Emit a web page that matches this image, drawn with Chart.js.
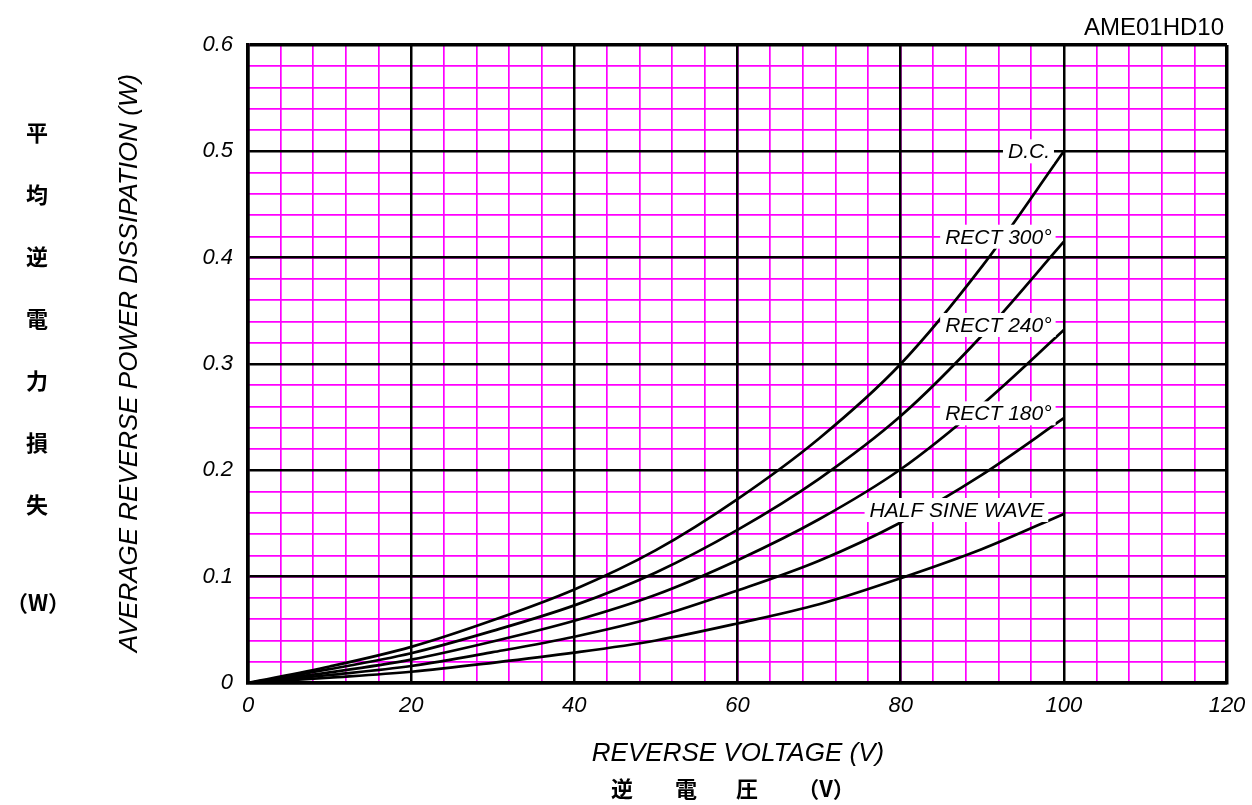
<!DOCTYPE html>
<html>
<head>
<meta charset="utf-8">
<script src="https://cdn.jsdelivr.net/npm/chart.js@4/dist/chart.umd.min.js"></script>
<style>
  html, body { margin: 0; padding: 0; background: #fff; }
  canvas { display: block; }
</style>
</head>
<body>
<canvas id="lossChart" width="1252" height="805"></canvas>
<script>
// Reverse voltage (V) and average reverse power dissipation (W)
const voltage = [0, 10, 20, 30, 40, 50, 60, 70, 80, 90, 100];
const dcLoss = [0, 0.0155, 0.034, 0.059, 0.088, 0.125, 0.173, 0.230, 0.300, 0.392, 0.500];
const rect300Loss = [0, 0.013, 0.028, 0.049, 0.073, 0.104, 0.144, 0.192, 0.251, 0.327, 0.415];
const rect240Loss = [0, 0.010, 0.022, 0.039, 0.0585, 0.083, 0.1155, 0.154, 0.201, 0.262, 0.332];
const rect180Loss = [0, 0.0075, 0.016, 0.029, 0.0435, 0.062, 0.087, 0.115, 0.151, 0.196, 0.249];
const halfSineLoss = [0, 0.005, 0.0106, 0.019, 0.0285, 0.040, 0.056, 0.074, 0.0985, 0.126, 0.159];

const seriesNames = ['D.C.', 'RECT 300°', 'RECT 240°', 'RECT 180°', 'HALF SINE WAVE'];
const seriesValues = [dcLoss, rect300Loss, rect240Loss, rect180Loss, halfSineLoss];

// where each curve name sits (right end of text, in data units)
const labelSpots = [
  { v: 98.3, p: 0.500 },
  { v: 98.5, p: 0.4197 },
  { v: 98.5, p: 0.3367 },
  { v: 98.5, p: 0.2536 },
  { v: 97.6, p: 0.1627 },
];

const FONT = '"Liberation Sans", Arial, sans-serif';
const CJK = '"Noto Sans CJK JP", "Noto Sans CJK SC", sans-serif';
Chart.defaults.font.family = FONT;
Chart.defaults.color = '#000';

const near = (a, b) => Math.abs(a - b) < 1e-9;

const curveLabels = {
  id: 'curveLabels',
  afterDatasetsDraw(chart) {
    const { ctx, scales } = chart;
    ctx.save();
    ctx.font = 'italic 21px ' + FONT;
    ctx.textAlign = 'right';
    ctx.textBaseline = 'middle';
    seriesNames.forEach((name, i) => {
      const x = scales.x.getPixelForValue(labelSpots[i].v);
      const y = scales.y.getPixelForValue(labelSpots[i].p);
      const w = ctx.measureText(name).width;
      ctx.fillStyle = '#fff';
      ctx.fillRect(x - w - 5, y - 12, w + 9, 24);
      ctx.fillStyle = '#000';
      ctx.fillText(name, x, y + 1);
    });
    ctx.restore();
  }
};

const titles = {
  id: 'titles',
  afterDraw(chart) {
    const ctx = chart.ctx;
    ctx.save();
    ctx.fillStyle = '#000';
    ctx.textBaseline = 'middle';

    ctx.font = '24px ' + FONT;
    ctx.textAlign = 'right';
    ctx.fillText('AME01HD10', 1224, 28);
    ctx.textAlign = 'center';

    ctx.font = 'italic 26px ' + FONT;
    ctx.fillText('REVERSE VOLTAGE (V)', 738, 754);

    ctx.save();
    ctx.translate(130, 363);
    ctx.rotate(-Math.PI / 2);
    ctx.fillText('AVERAGE REVERSE POWER DISSIPATION (W)', 0, 0);
    ctx.restore();

    ctx.font = 'bold 22px ' + CJK;
    const side = ['平', '均', '逆', '電', '力', '損', '失'];
    side.forEach((ch, i) => ctx.fillText(ch, 37, 133 + i * 62));
    ctx.fillText('（W）', 38, 603);

    const bottom = [['逆', 622], ['電', 686], ['圧', 747], ['（V）', 826]];
    bottom.forEach(([ch, x]) => ctx.fillText(ch, x, 789));
    ctx.restore();
  }
};

const minorAxis = (pos, step) => ({
  type: 'linear',
  position: pos,
  min: 0,
  max: pos === 'bottom' ? 120 : 0.6,
  ticks: { stepSize: step, display: false, autoSkip: false },
  grid: { color: '#ff00ff', lineWidth: 1.7, drawTicks: false, z: -2 },
  border: { display: false },
  afterFit(s) {
    if (pos === 'bottom') s.height = 0; else s.width = 0;
    s.paddingLeft = s.paddingRight = s.paddingTop = s.paddingBottom = 0;
  }
});

new Chart(document.getElementById('lossChart'), {
  type: 'line',
  data: {
    datasets: seriesNames.map((name, i) => ({
      label: name,
      data: voltage.map((v, j) => ({ x: v, y: seriesValues[i][j] })),
      borderColor: '#000',
      borderWidth: 2.7,
      pointRadius: 0,
      fill: false,
      cubicInterpolationMode: 'monotone',
      xAxisID: 'x',
      yAxisID: 'y'
    }))
  },
  options: {
    responsive: false,
    animation: false,
    layout: { padding: { left: 0, top: 45, right: 25, bottom: 0 } },
    plugins: { legend: { display: false }, tooltip: { enabled: false } },
    scales: {
      xm: minorAxis('bottom', 4),
      ym: minorAxis('left', 0.02),
      x: {
        type: 'linear',
        position: 'bottom',
        min: 0,
        max: 120,
        ticks: { stepSize: 20, autoSkip: false, padding: 10, maxRotation: 0,
                 font: { size: 22, style: 'italic' } },
        grid: { color: '#000', drawTicks: false,
                lineWidth: c => (c.tick && c.tick.value === 120 ? 3.5 : 2.5) },
        border: { color: '#000', width: 3.5 },
        afterFit(s) { s.height = 122; s.paddingLeft = 0; s.paddingRight = 0; }
      },
      y: {
        type: 'linear',
        position: 'left',
        min: 0,
        max: 0.6,
        ticks: { stepSize: 0.1, autoSkip: false, padding: 15,
                 font: { size: 22, style: 'italic' } },
        grid: { color: '#000', drawTicks: false,
                lineWidth: c => (c.tick && near(c.tick.value, 0.6) ? 3.5 : 2.5) },
        border: { color: '#000', width: 3.5 },
        afterFit(s) { s.width = 248; s.paddingTop = 0; s.paddingBottom = 0; }
      }
    }
  },
  plugins: [curveLabels, titles]
});
</script>
</body>
</html>
